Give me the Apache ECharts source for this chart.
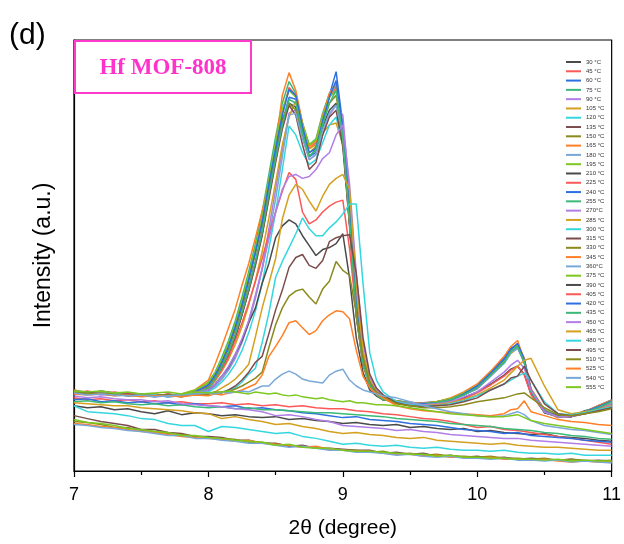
<!DOCTYPE html>
<html><head><meta charset="utf-8">
<script src="https://cdn.jsdelivr.net/npm/echarts@6/dist/echarts.min.js"></script>
<style>html,body{margin:0;padding:0;background:#fff}#c{width:624px;height:544px}</style>
</head><body><div id="c"></div>
<script>
// x positions (2θ, degree)
const X = [7.0,7.1,7.2,7.3,7.4,7.5,7.6,7.7,7.8,7.9,8.0,8.05,8.1,8.15,8.2,8.25,8.3,8.35,8.4,8.45,8.5,8.55,8.6,8.65,8.7,8.75,8.8,8.85,8.9,8.95,9.0,9.05,9.1,9.15,9.2,9.25,9.3,9.4,9.5,9.6,9.7,9.8,9.9,10.0,10.1,10.2,10.25,10.3,10.35,10.4,10.5,10.6,10.7,10.8,10.9,11.0];
const XF = [7.0,7.1,7.2,7.3,7.4,7.5,7.6,7.7,7.8,7.9,8.0,8.1,8.2,8.3,8.4,8.5,8.6,8.7,8.8,8.9,9.0,9.1,9.2,9.3,9.4,9.5,9.6,9.7,9.8,9.9,10.0,10.1,10.2,10.3,10.4,10.5,10.6,10.7,10.8,10.9,11.0];
const XTICKS = [7,8,9,10,11];

const LABELS = ['30 °C','45 °C','60 °C','75 °C','90 °C','105 °C','120 °C','135 °C','150 °C','165 °C','180 °C','195 °C','210 °C','225 °C','240 °C','255 °C','270°C','285 °C','300 °C','315 °C','330 °C','345 °C','360°C','375 °C','390 °C','405 °C','420 °C','435 °C','450 °C','465 °C','480 °C','495 °C','510 °C','525 °C','540 °C','555 °C'];

// intensity (a.u.) series
const s30 = [66,64,65,62,63,60,58,61,57,59,58,56,57,55,54,55,52,53,51,50,48,49,47,46,47,44,45,43,42,43,40,41,39,38,37,38,35,34,33,31,30];
const s45 = [74,72,73,71,72,70,71,69,70,68,68,69,67,68,66,67,65,66,64,63,63,61,60,58,57,55,53,52,50,47,44,45,42,41,39,37,35,33,31,29,27];
const s60 = [72,73,70,71,69,70,68,69,67,68,66,65,66,63,64,62,61,59,58,56,54,55,52,51,50,48,47,46,44,42,41,40,38,39,36,35,34,33,31,30,29];
const s75 = [70,71,69,70,68,67,68,66,67,65,64,65,63,64,62,62,61,60,59,59,58,57,56,55,53,52,51,50,48,47,46,45,43,42,41,39,38,36,35,33,32];
const s90 = [76,74,75,73,72,72,70,71,68,67,66,65,63,62,60,56,57,55,52,50,46,45,44,43,41,42,40,39,37,36,35,34,33,33,31,30,29,28,27,26,25];
const s105 = [69,68,67,66,66,64,63,62,61,59,58,53,55,52,50,47,48,45,43,40,38,39,37,36,34,33,34,31,30,29,28,27,28,26,25,24,24,23,22,21,21];
const s120 = [66,60,59,58,56,53,52,48,46,46,40,45,44,42,40,38,39,35,33,30,27,28,26,25,26,24,23,24,22,21,21,20,21,19,18,18,17,18,16,16,16];
const s135 = [56,53,50,48,46,42,42,39,38,35,35,34,31,31,28,28,25,26,23,23,22,21,21,18,19,17,18,15,16,14,15,13,14,12,13,12,11,12,10,11,10];
const s150 = [50,49,47,44,44,41,40,38,37,35,34,32,32,29,29,27,26,24,24,22,21,21,19,20,17,18,16,17,15,15,14,15,13,13,12,13,11,12,11,10,11];
const s165 = [48,47,45,44,42,40,39,37,35,34,33,32,30,31,28,27,26,24,25,22,21,20,20,18,17,17,15,16,14,14,13,14,12,12,11,12,10,9,10,9,9];
const s180 = [47,46,44,43,41,40,38,36,36,33,33,31,30,28,28,26,24,25,23,21,21,19,19,18,16,17,15,14,15,13,13,12,13,11,11,10,11,9,10,9,8];
const s195 = [52,49,48,46,43,42,40,39,36,36,34,33,31,30,29,26,27,24,23,23,21,20,20,19,18,17,17,15,16,14,14,13,13,12,12,11,12,10,11,10,10];

const s210 = [82,78,81,79,77,78,75,78,76,81, 84,92,104,118,135,158,183,210,240,278,315,350,372,368,340,318,325,348,365,372,335,250,158,108,86,77,72, 71,68,69,70,73,77,84, 97,110,121,126,112,82,61, 56,55,61,64,69];
const s225 = [79,81,78,80,78,76,78,76,78,79, 88,98,112,128,148,170,195,222,252,290,328,362,388,380,350,326,332,358,378,388,345,262,165,112,89,79,74, 69,70,67,70,71,79,86, 99,113,123,129,114,83,62, 54,57,59,66,71];
const s240 = [81,80,79,77,79,78,77,75,78,80, 85,94,106,120,138,160,186,212,243,280,318,352,378,376,344,318,322,350,380,404,350,265,170,114,90,79,73, 70,69,68,68,72,78,86, 100,114,124,128,111,79,59, 55,56,60,66,72];
const s255 = [80,78,80,78,76,77,77,76,76,81, 90,100,115,132,152,176,202,230,262,300,338,372,394,382,352,330,336,362,382,390,342,258,162,110,87,77,72, 70,69,67,69,72,77,84, 98,111,121,126,109,80,60, 56,55,59,65,70];
const s270 = [78,79,77,78,76,76,75,76,77,79, 82,86,93,102,114,130,150,175,205,245,285,325,362,365,338,315,320,340,360,370,360,280,178,118,90,79,74, 70,68,69,68,71,77,83, 96,109,119,124,110,81,60, 55,56,59,64,70];
const s285 = [80,80,78,79,77,78,76,77,76,80, 84,91,101,113,128,146,168,193,222,256,292,330,358,375,350,326,330,342,350,352,330,262,170,114,89,78,73, 69,68,68,70,73,78,85, 97,110,119,125,112,83,62, 55,56,60,64,69];
const s300 = [79,78,79,76,77,76,77,75,76,79, 80,84,90,98,108,122,140,162,190,225,262,305,349,340,322,310,315,332,350,358,330,250,160,110,88,78,73, 70,68,67,69,71,77,84, 97,109,120,125,111,80,60, 54,56,60,65,70];
const s315 = [81,79,80,78,78,76,77,76,77,79, 85,93,105,119,136,158,182,208,238,275,312,346,370,360,330,305,312,340,358,365,328,248,156,108,87,78,73, 71,69,68,69,72,78,85, 98,111,122,127,110,80,59, 55,55,60,65,71];
const s330 = [80,80,78,77,78,77,76,77,75,80, 86,96,109,124,143,165,192,220,250,288,325,356,372,365,340,322,328,352,372,380,336,252,160,110,87,78,73, 69,69,68,70,72,77,85, 98,112,122,128,112,81,61, 56,55,60,65,70];
const s345 = [82,79,80,78,79,77,78,76,78,82, 92,108,126,145,164,188,210,236,263,292,330,380,403,385,352,328,334,360,382,392,340,255,160,109,86,76,72, 70,67,68,70,74,80,88, 101,116,126,132,112,80,60, 54,56,60,66,72];
const s360 = [79,78,79,78,76,77,76,76,77,78, 81,86,93,103,116,132,152,176,204,238,275,318,360,362,336,315,320,345,362,370,340,258,165,112,88,78,73, 70,69,68,69,72,78,84, 96,110,120,125,110,80,60, 55,56,59,64,69];
const s375 = [81,80,80,78,78,77,77,76,78,82, 89,99,113,129,149,172,198,226,256,294,332,366,385,378,350,330,335,358,378,385,342,256,160,110,87,77,73, 71,69,68,70,73,79,86, 99,112,122,127,111,81,61, 56,56,60,65,71];
const s390 = [80,78,79,77,78,76,77,76,77,79, 82,88,96,105,118,132,150,165,190,210,236,248,254,250,238,228,218,224,226,230,240,195,135,100,82,76,72, 70,68,67,68,70,74,80, 88,97,103,106,98,78,60, 56,55,58,62,66];
const s405 = [81,79,80,78,79,77,76,78,76,80, 84,92,102,115,132,150,170,192,215,240,262,283,302,295,262,250,254,262,268,272,274,225,160,112,90,80,75, 70,69,68,67,70,73,79, 87,96,102,106,97,77,60, 55,56,58,63,67];
const s420 = [80,79,80,78,77,78,76,77,77,80, 87,97,110,126,146,168,194,222,252,290,326,360,386,380,348,322,326,354,378,395,346,262,168,112,88,78,73, 70,68,68,69,72,78,86, 99,113,123,129,113,82,61, 55,56,60,65,71];
const s435 = [79,80,78,79,77,76,77,76,77,79, 84,93,105,120,138,160,185,212,242,280,316,350,376,372,342,318,325,350,372,385,338,254,160,110,87,77,72, 70,69,67,69,72,77,84, 97,110,121,126,110,80,60, 55,56,59,64,70];
const s450 = [79,78,80,77,77,76,77,75,76,79, 82,88,96,106,118,134,152,178,205,235,262,285,298,300,296,298,305,316,322,340,350,290,200,130,95,82,76, 70,68,67,68,70,75,80, 90,100,107,112,104,82,60, 55,55,58,62,67];
const s465 = [80,79,78,78,77,77,76,77,76,78, 78,80,84,88,93,100,108,136,165,190,215,255,279,290,285,273,263,278,290,296,300,285,190,122,92,80,74, 68,66,66,67,69,72,77, 84,92,99,106,112,114,86, 62,58,60,62,66];
const s480 = [80,78,79,78,77,76,77,75,77,79, 80,78,80,82,84,90,98,104,130,160,196,212,226,240,256,245,238,238,246,252,260,270,270,190,120,92,80, 70,67,66,66,68,71,76, 82,88,92,96,99,92,70, 58,57,59,62,65];
const s495 = [79,80,78,77,78,76,76,77,75,78, 78,80,79,82,86,92,100,110,116,139,163,183,206,216,219,208,205,213,232,236,238,239,200,135,98,84,77, 69,66,65,66,67,70,74, 82,88,94,96,106,92,68, 58,56,58,61,64];
const s510 = [80,78,79,78,76,77,76,77,76,78, 78,79,80,80,83,86,90,94,100,125,148,165,177,182,184,176,169,184,192,212,203,198,160,115,90,80,75, 68,66,64,64,65,67,70, 72,74,76,78,79,74,64, 57,56,58,60,63];
const s525 = [78,77,78,76,77,75,76,76,75,77, 76,78,77,79,80,82,85,88,97,116,126,137,150,152,145,138,142,152,158,162,161,154,122,96,84,78,74, 66,63,61,60,59,58,57, 56,58,62,63,71,60,56, 52,50,49,47,46];
const s540 = [79,77,78,77,76,77,75,76,77,78, 79,78,80,79,80,81,80,83,86,86,93,98,101,98,93,91,90,89,97,101,103,92,86,82,80,78,76, 74,70,66,63,60,58,56, 55,56,58,60,57,51,46, 44,42,41,39,37];
const s555 = [81,80,81,79,80,78,79,80,78,80, 79,80,80,81,80,79,78,80,79,78,79,77,76,77,75,74,73,74,72,71,70,71,69,69,68,67,67, 66,64,62,60,58,57,56, 55,55,56,57,54,51,48, 46,44,42,40,38];

const SERIES_DATA = [s30,s45,s60,s75,s90,s105,s120,s135,s150,s165,s180,s195,s210,s225,s240,s255,s270,s285,s300,s315,s330,s345,s360,s375,s390,s405,s420,s435,s450,s465,s480,s495,s510,s525,s540,s555];

const PALETTE = ['#4a4a4a','#fb5858','#2f6fe0','#3cb878','#b07ee6','#d3a020','#36d6df','#7c4c4c','#8a8a1e','#ff7f26','#79a8d8','#7cc820'];

const series = SERIES_DATA.map((arr, i) => {
  const xs = arr.length === X.length ? X : XF;
  return {
    name: LABELS[i], type: 'line', symbol: 'none', showSymbol: false,
    lineStyle: { width: 1.5, color: PALETTE[i % 12] },
    itemStyle: { color: PALETTE[i % 12] },
    data: arr.map((v, k) => [xs[k], v])
  };
});

const chart = echarts.init(document.getElementById('c'));
chart.setOption({
  animation: false,
  backgroundColor: '#fff',
  grid: { left: 74, right: 10, top: 40, bottom: 68, show: true, borderColor: '#000', borderWidth: 1.2, backgroundColor: 'transparent' },
  xAxis: {
    type: 'value', min: XTICKS[0], max: XTICKS[XTICKS.length - 1], interval: 1,
    axisLine: { show: true, onZero: false, lineStyle: { color: '#000', width: 1.2 } },
    axisTick: { show: true, inside: false, length: 6, lineStyle: { color: '#000', width: 1.2 } },
    minorTick: { show: true, splitNumber: 2, length: 4, lineStyle: { color: '#000', width: 1.2 } },
    axisLabel: { color: '#000', fontSize: 18, fontFamily: 'Liberation Sans', margin: 15 },
    splitLine: { show: false },
    name: '2θ (degree)', nameLocation: 'middle', nameGap: 47,
    nameTextStyle: { color: '#000', fontSize: 21, fontFamily: 'Liberation Sans' }
  },
  yAxis: {
    type: 'value', min: 0, max: 436,
    axisLine: { show: true, lineStyle: { color: '#000', width: 1.2 } },
    axisTick: { show: false }, axisLabel: { show: false }, splitLine: { show: false },
    name: 'Intensity (a.u.)', nameLocation: 'middle', nameGap: 19,
    nameTextStyle: { color: '#000', fontSize: 23, fontFamily: 'Liberation Sans' }
  },
  legend: {
    orient: 'vertical', left: 561, top: 53, itemWidth: 15, itemHeight: 2, itemGap: 1.29,
    icon: 'rect', selectedMode: false, data: LABELS,
    textStyle: { fontSize: 6, color: '#333', lineHeight: 8, height: 8, fontFamily: 'Liberation Sans' }
  },
  graphic: [
    { type: 'text', left: 9, top: 21, style: { text: '(d)', fontSize: 30, fontFamily: 'Liberation Sans', fill: '#000' } },
    { type: 'rect', z: 100, shape: { x: 75, y: 41, width: 176, height: 52 }, style: { fill: '#fff', stroke: '#ff3acb', lineWidth: 2 } },
    { type: 'text', z: 101, x: 163, y: 68, style: { text: 'Hf MOF-808', fontSize: 23, fontWeight: 'bold', fontFamily: 'Liberation Serif', fill: '#ff33cc', align: 'center', verticalAlign: 'middle' } }
  ],
  series: series
});
</script>
</body></html>
